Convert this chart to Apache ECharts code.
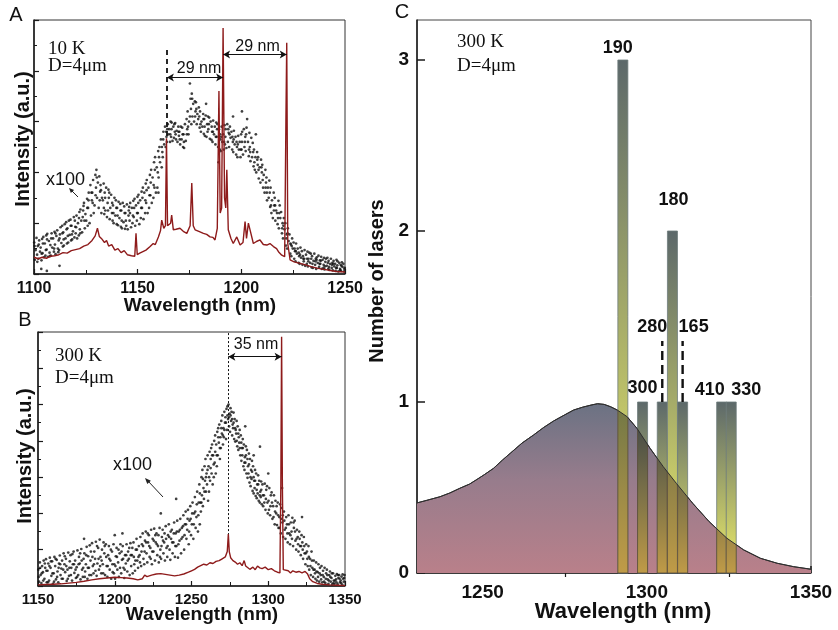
<!DOCTYPE html>
<html><head><meta charset="utf-8">
<script src="https://cdn.jsdelivr.net/npm/echarts@6.0.0/dist/echarts.min.js"></script>
<style>html,body{margin:0;padding:0;background:#fff}#c{width:838px;height:630px}</style>
</head><body><div id="c"></div><script>
// ---------- Panel A (10 K) ----------
const ticksA = [1100, 1150, 1200, 1250];
const laserA = [[1100,0.33],[1102,0.3],[1104,0.33],[1106,0.31],[1108,0.35],[1110,0.36],[1112,0.38],[1114,0.42],[1116,0.41],[1118,0.46],[1120,0.48],[1122,0.5],[1124,0.55],[1126,0.58],[1128,0.66],[1129.5,0.75],[1130.6,0.9],[1131.5,0.74],[1132.5,0.7],[1134,0.62],[1135,0.66],[1136,0.55],[1137.5,0.58],[1139,0.47],[1140.5,0.5],[1142,0.42],[1143.5,0.46],[1145,0.38],[1147,0.36],[1148.6,0.35],[1149.2,0.8],[1149.8,0.38],[1151,0.41],[1152.5,0.44],[1154,0.47],[1156,0.54],[1157.5,0.6],[1158.5,0.58],[1160,0.73],[1161,0.85],[1161.6,1.06],[1162.6,0.9],[1163.4,0.95],[1163.9,2.67],[1164.4,0.95],[1165.3,0.93],[1165.9,1.0],[1166.4,1.16],[1167.2,0.87],[1168.5,0.88],[1170.4,0.9],[1172,0.84],[1173.7,0.8],[1175.3,0.95],[1176.1,1.79],[1176.8,0.95],[1177.7,0.87],[1179.5,0.84],[1181.7,0.8],[1183.3,0.78],[1184.9,0.73],[1186.3,0.72],[1187.3,0.67],[1188.4,0.9],[1189.2,3.6],[1189.8,1.2],[1190.5,1.3],[1191.2,4.84],[1191.9,1.5],[1192.5,1.3],[1193,2.05],[1193.7,0.87],[1195,0.7],[1196.1,0.6],[1197.8,0.73],[1199.4,0.57],[1200.8,0.62],[1201.8,1.03],[1202.5,0.7],[1203.4,1.0],[1204.2,0.87],[1205.8,0.6],[1207.3,0.64],[1209,0.67],[1210.6,0.58],[1212.3,0.57],[1213.8,0.6],[1215.5,0.54],[1217,0.5],[1217.9,0.44],[1219.5,0.37],[1220.9,0.34],[1221.5,3.0],[1221.9,4.55],[1222.4,0.6],[1223.5,0.28],[1225.5,0.24],[1228.3,0.21],[1231,0.18],[1234,0.14],[1237,0.11],[1240,0.09],[1243,0.07],[1246,0.05],[1250,0.04]];
const dotsA = [[1100.1,.62],[1100.4,.28],[1100.8,.47],[1101.2,.71],[1101.5,.38],[1101.8,.55],[1102.1,.3],[1102.5,.66],[1102.9,.44],[1103.2,.52],[1103.6,.27],[1103.9,.69],[1104.1,.41],[1104.5,.73],[1104.8,.33],[1105.2,.6],[1105.5,.36],[1105.9,.76],[1106.1,.48],[1106.4,.79],[1106.8,.34],[1107.2,.65],[1107.5,.42],[1107.9,.57],[1108.1,.36],[1108.5,.8],[1108.8,.52],[1109.2,.7],[1109.6,.44],[1109.9,.83],[1110.1,.58],[1110.4,.39],[1110.8,.75],[1111.2,.86],[1111.5,.5],[1111.9,.66],[1112.1,.47],[1112.5,.78],[1112.8,.92],[1113.2,.61],[1113.6,.95],[1113.9,.54],[1114.1,.82],[1114.4,.56],[1114.8,.98],[1115.2,.7],[1115.5,1.02],[1115.9,.6],[1116.1,.9],[1116.5,.62],[1116.8,1.05],[1117.2,.77],[1117.6,1.07],[1117.9,.66],[1118.1,.95],[1118.4,.68],[1118.8,.84],[1119.2,1.12],[1119.5,.72],[1119.9,.93],[1120.1,.8],[1120.5,1.15],[1120.8,.7],[1121.2,1.0],[1121.6,.76],[1121.9,1.22],[1122.1,.88],[1122.4,1.27],[1122.8,1.05],[1123.2,.82],[1123.5,1.12],[1123.9,1.34],[1124.1,1.4],[1124.5,.9],[1124.8,1.18],[1125.2,1.05],[1125.6,1.48],[1125.9,.95],[1126.1,1.3],[1126.4,1.6],[1126.8,1.0],[1127.2,1.75],[1127.5,1.15],[1127.9,1.45],[1128.1,1.6],[1128.5,1.85],[1128.8,1.2],[1129.2,1.35],[1129.6,1.95],[1129.9,1.7],[1130.1,2.05],[1130.4,1.5],[1130.8,1.8],[1131.2,1.3],[1131.5,1.92],[1131.9,1.62],[1132.1,1.75],[1132.5,1.2],[1132.8,1.5],[1133.2,1.45],[1133.6,1.78],[1133.9,1.18],[1134.1,1.6],[1134.4,1.25],[1134.8,1.7],[1135.2,1.12],[1135.5,1.4],[1135.9,1.66],[1136.1,1.5],[1136.5,1.08],[1136.8,1.3],[1137.2,1.56],[1137.6,1.2],[1137.9,1.05],[1138.1,1.35],[1138.4,1.0],[1138.8,1.5],[1139.2,1.15],[1139.5,1.45],[1139.9,.98],[1140.1,1.3],[1140.5,.96],[1140.8,1.42],[1141.2,1.1],[1141.6,1.38],[1141.9,.93],[1142.1,1.25],[1142.4,.9],[1142.8,1.4],[1143.2,1.02],[1143.5,1.33],[1143.9,.89],[1144.1,1.2],[1144.5,.95],[1144.8,1.37],[1145.2,.88],[1145.6,1.15],[1145.9,1.32],[1146.1,1.05],[1146.4,1.4],[1146.8,.92],[1147.2,1.3],[1147.5,1.0],[1147.9,1.44],[1148.1,1.12],[1148.5,1.48],[1148.8,.95],[1149.2,1.35],[1149.6,1.05],[1149.9,1.52],[1150.1,1.2],[1150.4,1.56],[1150.8,.98],[1151.2,1.45],[1151.5,1.1],[1151.9,1.62],[1152.1,1.3],[1152.5,1.7],[1152.8,1.08],[1153.2,1.6],[1153.6,1.2],[1153.9,1.78],[1154.1,1.4],[1154.4,1.85],[1154.8,1.2],[1155.2,1.7],[1155.5,1.3],[1155.9,1.95],[1156.1,1.55],[1156.5,2.05],[1156.8,1.4],[1157.2,1.9],[1157.6,1.5],[1157.9,2.2],[1158.1,1.7],[1158.4,2.3],[1158.8,1.6],[1159.2,2.1],[1159.5,1.7],[1159.9,2.42],[1160.1,1.9],[1160.5,2.5],[1160.8,2.2],[1161.2,2.65],[1161.6,2.1],[1161.9,2.4],[1162.1,2.3],[1162.4,2.8],[1162.8,2.55],[1163.2,2.9],[1163.5,2.5],[1163.9,2.7],[1164.1,2.6],[1164.5,2.95],[1164.8,2.75],[1165.2,2.85],[1165.6,2.6],[1165.9,3.0],[1166.1,2.7],[1166.4,2.98],[1166.8,2.62],[1167.2,2.9],[1167.5,2.68],[1167.9,2.8],[1168.1,2.97],[1168.5,2.65],[1168.8,2.82],[1169.2,2.6],[1169.6,2.9],[1169.9,2.72],[1170.1,2.8],[1170.5,2.55],[1170.8,2.9],[1171.2,2.65],[1171.5,2.88],[1171.9,2.5],[1172.1,2.75],[1172.4,2.48],[1172.8,2.95],[1173.2,2.62],[1173.6,3.05],[1173.9,2.85],[1174.1,3.2],[1174.5,2.75],[1174.8,3.0],[1175.2,3.1],[1175.5,3.45],[1175.9,2.95],[1176.1,3.55],[1176.4,3.1],[1176.8,3.35],[1177.2,3.0],[1177.6,3.4],[1177.9,3.2],[1178.1,3.38],[1178.5,2.95],[1178.8,3.15],[1179.2,3.05],[1179.5,3.28],[1179.9,2.88],[1180.1,3.2],[1180.5,2.8],[1180.8,3.0],[1181.2,2.9],[1181.6,3.15],[1181.9,2.76],[1182.1,3.05],[1182.4,2.72],[1182.8,3.12],[1183.2,2.7],[1183.5,2.95],[1183.9,3.1],[1184.1,2.85],[1184.5,3.08],[1184.8,2.66],[1185.2,3.0],[1185.6,2.64],[1185.9,2.8],[1186.1,2.6],[1186.4,3.02],[1186.8,2.75],[1187.2,2.9],[1187.5,2.55],[1187.9,2.98],[1188.1,2.7],[1188.5,2.95],[1188.8,2.5],[1189.2,2.85],[1189.6,2.45],[1189.9,2.65],[1190.1,2.42],[1190.5,2.9],[1190.8,2.6],[1191.2,2.75],[1191.6,2.45],[1191.9,2.93],[1192.1,2.55],[1192.4,2.85],[1192.8,2.48],[1193.2,2.95],[1193.5,2.6],[1193.9,2.78],[1194.1,2.5],[1194.5,2.9],[1194.8,2.68],[1195.2,2.8],[1195.6,2.45],[1195.9,2.6],[1196.1,2.4],[1196.4,2.82],[1196.8,2.55],[1197.2,2.7],[1197.5,2.35],[1197.9,2.5],[1198.1,2.3],[1198.5,2.72],[1198.8,2.45],[1199.2,2.6],[1199.6,2.3],[1199.9,2.75],[1200.1,2.45],[1200.4,2.8],[1200.8,2.35],[1201.2,2.85],[1201.5,2.5],[1201.9,2.7],[1202.1,2.42],[1202.5,2.88],[1202.8,3.05],[1203.2,2.6],[1203.6,2.32],[1203.9,2.78],[1204.1,2.5],[1204.4,2.22],[1204.8,2.68],[1205.2,2.3],[1205.5,2.58],[1205.9,2.12],[1206.1,2.45],[1206.5,2.05],[1206.8,2.3],[1207.2,2.0],[1207.6,2.4],[1207.9,2.15],[1208.1,2.3],[1208.4,1.88],[1208.8,2.1],[1209.2,1.8],[1209.5,2.25],[1209.9,2.0],[1210.1,2.15],[1210.5,1.7],[1210.8,1.95],[1211.2,1.6],[1211.6,2.05],[1211.9,1.8],[1212.1,1.9],[1212.4,1.45],[1212.8,1.7],[1213.2,1.5],[1213.5,1.84],[1213.9,1.32],[1214.1,1.7],[1214.5,1.2],[1214.8,1.45],[1215.2,1.1],[1215.6,1.6],[1215.9,1.35],[1216.1,1.5],[1216.4,1.05],[1216.8,1.25],[1217.2,1.2],[1217.5,.98],[1217.9,1.44],[1218.1,.9],[1218.5,1.35],[1218.8,1.1],[1219.2,1.22],[1219.6,.8],[1219.9,1.0],[1220.1,.7],[1220.5,1.1],[1220.8,.88],[1221.2,1.0],[1221.5,.56],[1221.9,.78],[1222.1,.5],[1222.4,.9],[1222.8,.65],[1223.2,.78],[1223.6,.4],[1223.9,.58],[1224.1,.35],[1224.5,.7],[1224.8,.5],[1225.2,.62],[1225.5,.3],[1225.9,.45],[1226.1,.25],[1226.4,.6],[1226.8,.4],[1227.2,.5],[1227.6,.22],[1227.9,.35],[1228.1,.2],[1228.5,.52],[1228.8,.32],[1229.2,.45],[1229.5,.18],[1229.9,.3],[1230.1,.25],[1230.5,.47],[1230.8,.16],[1231.2,.38],[1231.6,.2],[1231.9,.44],[1232.1,.15],[1232.4,.3],[1232.8,.42],[1233.2,.22],[1233.5,.4],[1233.9,.13],[1234.1,.35],[1234.5,.12],[1234.8,.26],[1235.2,.4],[1235.6,.18],[1235.9,.3],[1236.1,.1],[1236.4,.33],[1236.8,.22],[1237.2,.36],[1237.5,.14],[1237.9,.27],[1238.1,.2],[1238.5,.34],[1238.8,.1],[1239.2,.28],[1239.6,.12],[1239.9,.32],[1240.1,.09],[1240.5,.24],[1240.8,.3],[1241.2,.16],[1241.5,.32],[1241.9,.1],[1242.1,.26],[1242.4,.08],[1242.8,.2],[1243.2,.3],[1243.6,.12],[1243.9,.22],[1244.1,.07],[1244.5,.26],[1244.8,.15],[1245.2,.2],[1245.5,.06],[1245.9,.28],[1246.1,.12],[1246.4,.25],[1246.8,.05],[1247.2,.22],[1247.6,.1],[1247.9,.18],[1248.1,.06],[1248.5,.23],[1248.8,.14],[1249.2,.2],[1249.6,.05],[1249.9,.12],[1103.5,.1],[1106.2,.06],[1112.3,.16],[1175.2,3.75],[1183,3.35],[1196,3.1],[1207,2.75],[1160,1.6],[1189,2.2],[1200.3,3.2]];
const dotsA2 = [[1100.3,.55],[1101.6,.24],[1102.3,.58],[1103.7,.4],[1104.3,.6],[1105.7,.47],[1106.3,.68],[1107.7,.35],[1108.3,.7],[1109.7,.5],[1110.3,.8],[1111.7,.43],[1112.3,.7],[1113.7,.8],[1114.3,.68],[1115.7,.88],[1116.3,.75],[1117.7,.95],[1118.3,.78],[1119.7,1.05],[1120.3,.92],[1121.7,1.1],[1122.3,.8],[1123.7,1.25],[1124.3,1.05],[1125.7,1.3],[1126.3,1.45],[1127.7,1.6],[1128.3,1.4],[1129.7,1.55],[1130.3,1.9],[1131.7,1.45],[1132.3,1.65],[1133.7,1.3],[1134.3,1.5],[1135.7,1.25],[1136.3,1.6],[1137.7,1.4],[1138.3,1.2],[1139.7,1.3],[1140.3,1.15],[1141.7,1.25],[1142.3,1.05],[1143.7,1.2],[1144.3,1.05],[1145.7,1.25],[1146.3,1.2],[1147.7,1.15],[1148.3,1.3],[1149.7,1.2],[1150.3,1.4],[1151.7,1.3],[1152.3,1.5],[1153.7,1.45],[1154.3,1.65],[1155.7,1.55],[1156.3,1.8],[1157.7,1.75],[1158.3,2.05],[1159.7,2.0],[1160.3,2.3],[1161.7,2.5],[1162.3,2.65],[1163.7,2.8],[1164.3,2.85],[1165.7,2.75],[1166.3,2.85],[1167.7,2.95],[1168.3,2.75],[1169.7,2.8],[1170.3,2.65],[1171.7,2.75],[1172.3,2.6],[1173.7,2.75],[1174.3,2.9],[1175.7,3.25],[1176.3,3.45],[1177.7,3.1],[1178.3,3.25],[1179.7,3.1],[1180.3,2.95],[1181.7,3.05],[1182.3,2.9],[1183.7,2.8],[1184.3,2.95],[1185.7,2.9],[1186.3,2.8],[1187.7,2.7],[1188.3,2.85],[1189.7,2.75],[1190.3,2.7],[1191.7,2.6],[1192.3,2.7],[1193.7,2.85],[1194.3,2.75],[1195.7,2.7],[1196.3,2.65],[1197.7,2.6],[1198.3,2.55],[1199.7,2.45],[1200.3,2.6],[1201.7,2.6],[1202.3,2.75],[1203.7,2.45],[1204.3,2.4],[1205.7,2.4],[1206.3,2.2],[1207.7,2.25],[1208.3,2.05],[1209.7,2.1],[1210.3,1.85],[1211.7,1.7],[1212.3,1.6],[1213.7,1.6],[1214.3,1.35],[1215.7,1.25],[1216.3,1.35],[1217.7,1.1],[1218.3,1.2],[1219.7,.9],[1220.3,.95],[1221.7,.7],[1222.3,.8],[1223.7,.6],[1224.3,.55],[1225.7,.5],[1226.3,.45],[1227.7,.42],[1228.3,.38],[1229.7,.35],[1230.3,.3],[1231.7,.3],[1232.3,.25],[1233.7,.3],[1234.3,.2],[1235.7,.25],[1236.3,.28],[1237.7,.2],[1238.3,.26],[1239.7,.18],[1240.3,.15],[1241.7,.22],[1242.3,.14],[1243.7,.18],[1244.3,.2],[1245.7,.12],[1246.3,.17],[1247.7,.08],[1248.3,.16],[1249.7,.1]];

// ---------- Panel B (300 K) ----------
const ticksB = [1150, 1200, 1250, 1300, 1350];
const laserB = [[1150,0.03],[1155,0.04],[1160,0.05],[1165,0.06],[1170,0.08],[1175,0.1],[1180,0.13],[1185,0.17],[1190,0.2],[1195,0.22],[1200,0.24],[1204,0.23],[1208,0.22],[1212,0.2],[1215,0.17],[1218,0.2],[1219.5,0.3],[1221,0.26],[1224,0.3],[1227,0.33],[1230,0.34],[1233,0.32],[1236,0.3],[1239,0.28],[1242,0.3],[1245,0.33],[1248,0.38],[1250,0.42],[1252,0.46],[1254,0.52],[1256,0.56],[1258,0.6],[1260,0.58],[1262,0.64],[1264,0.62],[1266,0.68],[1268,0.7],[1270,0.75],[1272,0.8],[1273.3,0.95],[1274,1.43],[1274.6,0.95],[1275.5,0.78],[1277,0.7],[1278.5,0.66],[1280,0.6],[1281.5,0.64],[1283,0.56],[1284.3,0.7],[1285.3,0.55],[1286.5,0.5],[1288,0.46],[1290,0.52],[1291.5,0.45],[1293,0.55],[1294.5,0.5],[1296,0.48],[1298,0.52],[1300,0.45],[1302,0.48],[1304,0.42],[1306,0.38],[1307.6,0.36],[1308.2,2.8],[1308.7,6.87],[1309.2,2.8],[1309.8,0.45],[1311,0.4],[1313,0.42],[1314.5,0.36],[1316,0.42],[1318,0.38],[1320,0.4],[1322,0.36],[1324,0.4],[1325.5,0.34],[1327,0.2],[1329,0.12],[1332,0.07],[1335,0.05],[1340,0.03],[1345,0.02],[1350,0.01]];
const dotsB = [[1150.2,.45],[1150.7,.12],[1151.2,.65],[1151.7,.3],[1152.2,.08],[1152.7,.55],[1153.2,.38],[1153.7,.7],[1154.2,.2],[1154.7,.5],[1155.2,.74],[1155.7,.1],[1156.2,.42],[1156.7,.62],[1157.2,.15],[1157.7,.78],[1158.2,.5],[1158.7,.28],[1159.2,.68],[1159.7,.06],[1160.2,.35],[1160.7,.8],[1161.2,.55],[1161.7,.18],[1162.2,.72],[1162.7,.4],[1163.2,.1],[1163.7,.62],[1164.2,.84],[1164.7,.3],[1165.2,.48],[1165.7,.7],[1166.2,.2],[1166.7,.9],[1167.2,.6],[1167.7,.38],[1168.2,.75],[1168.7,.14],[1169.2,.45],[1169.7,.92],[1170.2,.28],[1170.7,.68],[1171.2,.85],[1171.7,.5],[1172.2,.15],[1172.7,.6],[1173.2,.95],[1173.7,.36],[1174.2,.7],[1174.7,.22],[1175.2,.52],[1175.7,.98],[1176.2,.3],[1176.7,.8],[1177.2,.62],[1177.7,.18],[1178.2,1.02],[1178.7,.45],[1179.2,.25],[1179.7,.75],[1180.2,.9],[1180.7,.4],[1181.2,.6],[1181.7,1.08],[1182.2,.2],[1182.7,.82],[1183.2,.5],[1183.7,1.12],[1184.2,.7],[1184.7,.3],[1185.2,1.18],[1185.7,.55],[1186.2,.35],[1186.7,.95],[1187.2,.75],[1187.7,1.22],[1188.2,.28],[1188.7,.62],[1189.2,1.05],[1189.7,.45],[1190.2,1.28],[1190.7,.8],[1191.2,.35],[1191.7,1.0],[1192.2,.6],[1192.7,1.2],[1193.2,.9],[1193.7,.3],[1194.2,1.15],[1194.7,.55],[1195.2,.25],[1195.7,.85],[1196.2,1.1],[1196.7,.45],[1197.2,.7],[1197.7,.2],[1198.2,.95],[1198.7,.38],[1199.2,1.15],[1199.7,.6],[1200.2,.2],[1200.7,.82],[1201.2,1.05],[1201.7,.45],[1202.2,.65],[1202.7,.25],[1203.2,.9],[1203.7,1.15],[1204.2,.35],[1204.7,.72],[1205.2,1.1],[1205.7,.5],[1206.2,.22],[1206.7,.85],[1207.2,.62],[1207.7,1.15],[1208.2,.4],[1208.7,.95],[1209.2,.75],[1209.7,.3],[1210.2,1.18],[1210.7,.55],[1211.2,.85],[1211.7,.35],[1212.2,1.2],[1212.7,.6],[1213.2,.42],[1213.7,1.0],[1214.2,1.3],[1214.7,.7],[1215.2,.5],[1215.7,1.1],[1216.2,.85],[1216.7,1.35],[1217.2,.55],[1217.7,1.15],[1218.2,1.45],[1218.7,.75],[1219.2,.6],[1219.7,1.25],[1220.2,1.5],[1220.7,.9],[1221.2,.65],[1221.7,1.2],[1222.2,1.4],[1222.7,.8],[1223.2,1.05],[1223.7,1.55],[1224.2,.6],[1224.7,1.3],[1225.2,.95],[1225.7,1.58],[1226.2,.7],[1226.7,1.2],[1227.2,1.45],[1227.7,.85],[1228.2,1.1],[1228.7,.65],[1229.2,1.6],[1229.7,1.0],[1230.2,.75],[1230.7,1.35],[1231.2,1.55],[1231.7,.9],[1232.2,1.2],[1232.7,.7],[1233.2,1.65],[1233.7,1.05],[1234.2,.8],[1234.7,1.4],[1235.2,1.7],[1235.7,1.0],[1236.2,.72],[1236.7,1.3],[1237.2,1.55],[1237.7,.9],[1238.2,1.2],[1238.7,1.75],[1239.2,.8],[1239.7,1.45],[1240.2,1.1],[1240.7,1.8],[1241.2,.78],[1241.7,1.5],[1242.2,1.25],[1242.7,1.85],[1243.2,.9],[1243.7,1.6],[1244.2,1.35],[1244.7,1.95],[1245.2,1.0],[1245.7,1.7],[1246.2,2.05],[1246.7,1.3],[1247.2,1.55],[1247.7,2.1],[1248.2,1.15],[1248.7,1.8],[1249.2,2.2],[1249.7,1.4],[1250.2,1.7],[1250.7,2.3],[1251.2,1.3],[1251.7,2.0],[1252.2,2.45],[1252.7,1.6],[1253.2,1.9],[1253.7,2.6],[1254.2,1.5],[1254.7,2.3],[1255.1,2.8],[1255.4,1.7],[1255.8,2.3],[1256.1,2.05],[1256.5,3.0],[1256.8,2.5],[1257.1,3.2],[1257.4,2.2],[1257.8,2.7],[1258.1,2.4],[1258.5,3.3],[1258.8,2.9],[1259.1,3.5],[1259.4,2.6],[1259.8,3.1],[1260.1,2.8],[1260.5,3.6],[1260.8,2.35],[1261.1,3.3],[1261.4,2.6],[1261.8,3.7],[1262.1,2.9],[1262.5,3.5],[1262.8,3.8],[1263.1,3.1],[1263.4,3.9],[1263.8,2.8],[1264.1,3.6],[1264.5,3.0],[1264.8,4.0],[1265.1,3.4],[1265.4,4.15],[1265.8,3.1],[1266.1,3.9],[1266.5,3.3],[1266.8,4.25],[1267.1,3.6],[1267.4,4.35],[1267.8,3.95],[1268.1,4.45],[1268.5,3.5],[1268.8,4.1],[1269.1,3.8],[1269.4,4.55],[1269.8,4.2],[1270.1,4.7],[1270.5,3.9],[1270.8,4.35],[1271.1,4.1],[1271.4,4.8],[1271.8,4.5],[1272.1,4.65],[1272.5,4.05],[1272.8,4.88],[1273.1,4.3],[1273.4,4.95],[1273.8,4.6],[1274.1,5.0],[1274.5,4.4],[1274.8,4.75],[1275.1,4.25],[1275.4,4.9],[1275.8,4.55],[1276.1,4.8],[1276.5,4.15],[1276.8,4.45],[1277.1,4.35],[1277.4,4.78],[1277.8,4.05],[1278.1,4.6],[1278.5,3.98],[1278.8,4.3],[1279.1,4.2],[1279.4,4.55],[1279.8,3.85],[1280.1,4.4],[1280.5,3.75],[1280.8,4.1],[1281.1,3.95],[1281.4,4.3],[1281.8,3.6],[1282.1,4.15],[1282.5,3.45],[1282.8,3.8],[1283.1,3.6],[1283.4,4.05],[1283.8,3.3],[1284.1,3.9],[1284.5,3.2],[1284.8,3.55],[1285.1,3.4],[1285.4,3.85],[1285.8,3.1],[1286.1,3.75],[1286.5,2.98],[1286.8,3.3],[1287.1,3.1],[1287.4,3.65],[1287.8,2.85],[1288.1,3.5],[1288.5,2.75],[1288.8,3.2],[1289.1,2.95],[1289.4,3.45],[1289.8,2.62],[1290.1,3.3],[1290.5,2.55],[1290.8,2.9],[1291.1,2.7],[1291.4,3.2],[1291.8,2.48],[1292.1,3.1],[1292.5,2.42],[1292.8,2.8],[1293.1,2.55],[1293.4,3.05],[1293.8,2.35],[1294.1,2.9],[1294.5,2.3],[1294.8,2.6],[1295.1,2.45],[1295.4,2.88],[1295.8,2.25],[1296.2,2.8],[1296.7,2.2],[1297.2,2.5],[1297.7,2.82],[1298.2,2.1],[1298.7,2.65],[1299.2,2.75],[1299.7,2.0],[1300.2,2.35],[1300.7,2.7],[1301.2,1.95],[1301.7,2.5],[1302.2,2.58],[1302.7,1.85],[1303.2,2.2],[1303.7,2.5],[1304.2,1.7],[1304.7,2.35],[1305.2,2.0],[1305.7,1.68],[1306.2,2.3],[1306.7,1.6],[1307.2,1.9],[1307.7,2.25],[1308.2,1.45],[1308.7,2.15],[1309.2,1.75],[1309.7,1.35],[1310.2,2.05],[1310.7,1.55],[1311.2,1.3],[1311.7,1.9],[1312.2,1.7],[1312.7,1.2],[1313.2,1.95],[1313.7,1.45],[1314.2,1.15],[1314.7,1.75],[1315.2,1.5],[1315.7,1.88],[1316.2,1.1],[1316.7,1.6],[1317.2,1.8],[1317.7,1.25],[1318.2,1.0],[1318.7,1.55],[1319.2,1.35],[1319.7,.95],[1320.2,1.5],[1320.7,1.1],[1321.2,.85],[1321.7,1.4],[1322.2,1.2],[1322.7,.75],[1323.2,1.35],[1323.7,.9],[1324.2,.6],[1324.7,1.15],[1325.2,.95],[1325.7,.55],[1326.2,1.1],[1326.7,.45],[1327.2,.75],[1327.7,.3],[1328.2,.95],[1328.7,.5],[1329.2,.25],[1329.7,.7],[1330.2,.45],[1330.7,.2],[1331.2,.65],[1331.7,.15],[1332.2,.38],[1332.7,.6],[1333.2,.12],[1333.7,.5],[1334.2,.3],[1334.7,.55],[1335.2,.1],[1335.7,.42],[1336.2,.25],[1336.7,.5],[1337.2,.08],[1337.7,.35],[1338.2,.45],[1338.7,.18],[1339.2,.06],[1339.7,.3],[1340.2,.4],[1340.7,.12],[1341.2,.22],[1341.7,.05],[1342.2,.35],[1342.7,.15],[1343.2,.06],[1343.7,.28],[1344.2,.18],[1344.7,.33],[1345.2,.05],[1345.7,.22],[1346.2,.3],[1346.7,.1],[1347.2,.15],[1347.7,.26],[1348.2,.04],[1348.7,.2],[1349.2,.12],[1349.7,.3],[1285,4.4],[1309,2.7],[1294.6,3.84],[1300,3.1],[1290.5,3.6],[1322,1.9],[1240,2.4],[1230,2.0],[1200,1.4],[1180,1.3],[1205,1.45]];
const dotsB2 = [[1150.45,.25],[1151.45,.5],[1152.45,.35],[1153.45,.15],[1154.45,.62],[1155.45,.42],[1156.45,.1],[1157.45,.55],[1158.45,.68],[1159.45,.35],[1160.45,.12],[1161.45,.75],[1162.45,.25],[1163.45,.5],[1164.45,.6],[1165.45,.2],[1166.45,.45],[1167.45,.82],[1168.45,.55],[1169.45,.2],[1170.45,.5],[1171.45,.3],[1172.45,.88],[1173.45,.6],[1174.45,.45],[1175.45,.25],[1176.45,.6],[1177.45,.9],[1178.45,.7],[1179.45,.5],[1180.45,.25],[1181.45,.85],[1182.45,.5],[1183.45,.3],[1184.45,.95],[1185.45,.8],[1186.45,.6],[1187.45,.42],[1188.45,1.1],[1189.45,.75],[1190.45,.55],[1191.45,.7],[1192.45,.35],[1193.45,1.1],[1194.45,.8],[1195.45,.55],[1196.45,.75],[1197.45,1.0],[1198.45,.6],[1199.45,.35],[1200.45,.55],[1201.45,.8],[1202.45,1.0],[1203.45,.5],[1204.45,.95],[1205.45,.75],[1206.45,.45],[1207.45,.85],[1208.45,.7],[1209.45,1.05],[1210.45,.85],[1211.45,1.05],[1212.45,.8],[1213.45,.7],[1214.45,1.0],[1215.45,.8],[1216.45,.65],[1217.45,.95],[1218.45,1.1],[1219.45,.95],[1220.45,1.2],[1221.45,1.45],[1222.45,1.1],[1223.45,.75],[1224.45,.95],[1225.45,1.25],[1226.45,1.4],[1227.45,1.15],[1228.45,1.4],[1229.45,.8],[1230.45,1.1],[1231.45,1.25],[1232.45,1.45],[1233.45,1.3],[1234.45,1.1],[1235.45,1.35],[1236.45,1.5],[1237.45,1.2],[1238.45,1.45],[1239.45,1.1],[1240.45,1.5],[1241.45,1.15],[1242.45,1.55],[1243.45,1.3],[1244.45,1.65],[1245.45,1.4],[1246.45,1.7],[1247.45,1.85],[1248.45,1.5],[1249.45,1.85],[1250.45,2.0],[1251.45,1.7],[1252.45,2.05],[1253.45,2.25],[1254.45,1.95],[1255.45,2.55],[1256.45,2.3],[1257.45,2.95],[1258.45,2.6],[1259.45,3.0],[1260.45,3.2],[1261.45,3.0],[1262.45,3.25],[1263.45,3.6],[1264.45,3.35],[1265.45,3.7],[1266.45,3.6],[1267.45,4.1],[1268.45,3.8],[1269.45,4.35],[1270.45,4.15],[1271.45,4.3],[1272.45,4.5],[1273.45,4.7],[1274.45,4.65],[1275.45,4.7],[1276.45,4.6],[1277.45,4.5],[1278.45,4.35],[1279.45,4.0],[1280.45,4.2],[1281.45,3.8],[1282.45,3.95],[1283.45,3.8],[1284.45,3.4],[1285.45,3.6],[1286.45,3.5],[1287.45,3.35],[1288.45,3.0],[1289.45,3.15],[1290.45,3.0],[1291.45,2.9],[1292.45,2.65],[1293.45,2.8],[1294.45,2.5],[1295.45,2.65],[1296.45,2.5],[1297.45,2.3],[1298.45,2.4],[1299.45,2.3],[1300.45,2.1],[1301.45,2.2],[1302.45,2.3],[1303.45,1.9],[1304.45,2.05],[1305.45,2.2],[1306.45,1.95],[1307.45,1.6],[1308.45,1.85],[1309.45,1.95],[1310.45,1.8],[1311.45,1.6],[1312.45,1.45],[1313.45,1.7],[1314.45,1.4],[1315.45,1.3],[1316.45,1.75],[1317.45,1.5],[1318.45,1.3],[1319.45,1.15],[1320.45,1.3],[1321.45,1.1],[1322.45,1.0],[1323.45,1.1],[1324.45,.9],[1325.45,.75],[1326.45,.8],[1327.45,.55],[1328.45,.7],[1329.45,.45],[1330.45,.35],[1331.45,.4],[1332.45,.25],[1333.45,.35],[1334.45,.18],[1335.45,.3],[1336.45,.12],[1337.45,.2],[1338.45,.3],[1339.45,.15],[1340.45,.25],[1341.45,.35],[1342.45,.08],[1343.45,.15],[1344.45,.1],[1345.45,.3],[1346.45,.2],[1347.45,.08],[1348.45,.32],[1349.45,.22]];

// ---------- Panel C (lasing statistics) ----------
const plCurve = [[1230,0.41],[1233,0.425],[1237,0.446],[1240,0.468],[1243,0.495],[1246,0.52],[1248,0.544],[1250.5,0.575],[1253.3,0.612],[1256,0.66],[1258.4,0.70],[1262,0.76],[1265.5,0.807],[1268.5,0.85],[1271.6,0.889],[1275,0.925],[1277.7,0.953],[1280.5,0.97],[1283,0.982],[1285,0.99],[1287,0.986],[1289,0.972],[1291,0.953],[1294,0.914],[1297,0.846],[1301,0.729],[1305,0.622],[1309,0.524],[1314,0.407],[1319,0.30],[1324.4,0.203],[1329.5,0.135],[1334.6,0.086],[1339.7,0.057],[1344.7,0.037],[1350,0.022]];
const laserWl = [1292.7, 1298.7, 1304.7, 1307.8, 1310.9, 1322.8, 1325.7];
const laserCount = [3, 1, 1, 2, 1, 1, 1];
const laserLabel = ['190', '300', '280', '180', '165', '410', '330'];
const ticksCx = [1250, 1300, 1350];
const minorTicksCx = [1275, 1325];
const ticksCy = [0, 1, 2, 3];

// ---------- styling ----------
const labelOffset = [{dx:-5,dy:-12},{dx:0,dy:-14},{dx:-10,dy:-75,lead:true},{dx:1,dy:-31},{dx:11,dy:-75,lead:true},{dx:-12,dy:-12},{dx:15,dy:-12}];
const BAR_W = 3.05;
const SANS = '"Liberation Sans", Arial, sans-serif';
const SERIF = '"Liberation Serif", "Times New Roman", serif';
const AX = '#1a1a1a';
const RED = '#8e1b1b';
const BAR_TOP = [92, 104, 106], BAR_BOT = [238, 238, 104];
const AREA_TOP = [107, 114, 131], AREA_MID = [151, 124, 140], AREA_BOT = [185, 128, 138];
const PEAK = 0.99;

const mix = (a, b, t) => a.map((v, i) => v + (b[i] - v) * t);
const rgb = c => 'rgb(' + c.map(v => Math.round(v)).join(',') + ')';
function areaColor(v) {
  const t = 1 - Math.min(v, PEAK) / PEAK;
  return t < 0.45 ? mix(AREA_TOP, AREA_MID, t / 0.45) : mix(AREA_MID, AREA_BOT, (t - 0.45) / 0.55);
}
// colour of a bar seen through the spectrum (multiply-like blend)
function overlayGradient(n) {
  const stops = [];
  for (let k = 0; k <= 12; k++) {
    const t = k / 12;
    const b = mix(BAR_TOP, BAR_BOT, t);
    const a = areaColor(n * (1 - t));
    const m = b.map((v, i) => v * a[i] / 255);
    stops.push({offset: t, color: rgb(m.map((v, i) => v * 0.7 + b[i] * 0.3))});
  }
  return new echarts.graphic.LinearGradient(0, 0, 0, 1, stops);
}

function renderBar(params, api) {
  const i = params.dataIndex;
  const x = api.value(0), n = api.value(1);
  const tl = api.coord([x - BAR_W / 2, n]);
  const br = api.coord([x + BAR_W / 2, 0]);
  const top = api.coord([x, n]);
  const o = labelOffset[i];
  const poly = plCurve.map(p => api.coord(p));
  poly.push(api.coord([plCurve[plCurve.length - 1][0], 0]));
  poly.push(api.coord([plCurve[0][0], 0]));
  const shape = {x: tl[0], y: tl[1], width: br[0] - tl[0], height: br[1] - tl[1]};
  const children = [{
    type: 'rect', shape: shape,
    style: {fill: new echarts.graphic.LinearGradient(0, 0, 0, 1, [
      {offset: 0, color: rgb(BAR_TOP)}, {offset: 1, color: rgb(BAR_BOT)}]),
      stroke: '#6d7b7b', lineWidth: 0.8}
  }, {
    type: 'rect', shape: shape,
    clipPath: {type: 'polygon', shape: {points: poly}},
    style: {fill: overlayGradient(n), stroke: '#5a4a3a', lineWidth: 0.8}
  }, {
    type: 'text', x: top[0] + o.dx, y: top[1] + o.dy,
    style: {text: laserLabel[i], font: 'bold 18px ' + SANS, fill: '#111', align: 'center', verticalAlign: 'middle'}
  }];
  if (o.lead) {
    children.push({type: 'line', shape: {x1: top[0], y1: top[1], x2: top[0], y2: top[1] + o.dy + 14},
      style: {stroke: '#111', lineWidth: 2.4, lineDash: [9, 5]}});
  }
  return {type: 'group', children: children};
}

function axisCommon(extra) {
  return Object.assign({
    type: 'value',
    axisLine: {show: true, onZero: false, lineStyle: {color: AX, width: 1.5}},
    axisTick: {show: true, inside: true, length: 5, lineStyle: {color: AX, width: 1.2}},
    splitLine: {show: false}
  }, extra);
}
const lab = (size, margin, extra) => Object.assign({color: '#111', fontWeight: 'bold', fontFamily: SANS,
  fontSize: size, margin: margin, formatter: v => String(v)}, extra || {});

const txt = (x, y, text, font) => ({
  type: 'text', x: x, y: y, silent: true,
  style: {text: text, font: font, fill: '#111', align: 'left', verticalAlign: 'middle'}
});
const ctxt = (x, y, text, font, rot) => ({
  type: 'text', x: x, y: y, rotation: rot || 0, silent: true,
  style: {text: text, font: font, fill: '#111', align: 'center', verticalAlign: 'middle'}
});

const markArrows = (extraData) => ({
  silent: true, animation: false, symbol: ['arrow', 'arrow'], symbolSize: [6, 7], label: {show: false},
  lineStyle: {color: '#111', width: 1.2, type: 'solid'}, emphasis: {disabled: true}, data: extraData
});

const chart = echarts.init(document.getElementById('c'), null, {renderer: 'canvas'});
chart.setOption({
  animation: false,
  backgroundColor: '#fff',
  grid: [
    {left: 34, top: 20, width: 311, height: 254, show: true, borderColor: '#333', borderWidth: 1, backgroundColor: 'transparent'},
    {left: 38, top: 332, width: 307, height: 254, show: true, borderColor: '#333', borderWidth: 1, backgroundColor: 'transparent'},
    {left: 417, top: 20, width: 394, height: 553, show: true, borderColor: '#444', borderWidth: 1, backgroundColor: 'transparent'}
  ],
  xAxis: [
    axisCommon({gridIndex: 0, min: ticksA[0], max: ticksA[ticksA.length - 1], interval: 50,
      minorTick: {show: true, splitNumber: 2, length: 4, lineStyle: {color: AX}}, axisLabel: lab(16, 7)}),
    axisCommon({gridIndex: 1, min: ticksB[0], max: ticksB[ticksB.length - 1], interval: 50,
      minorTick: {show: true, splitNumber: 2, length: 4, lineStyle: {color: AX}}, axisLabel: lab(15, 6)}),
    axisCommon({gridIndex: 2, min: 1230, max: 1350,
      axisTick: {show: true, inside: true, length: 7, customValues: ticksCx, lineStyle: {color: AX, width: 1.5}},
      axisLabel: lab(19, 10, {customValues: ticksCx})}),
    axisCommon({gridIndex: 2, min: 1230, max: 1350, axisLine: {show: false},
      axisTick: {show: true, inside: true, length: 4, customValues: minorTicksCx, lineStyle: {color: AX, width: 1.2}},
      axisLabel: {show: false}})
  ],
  yAxis: [
    axisCommon({gridIndex: 0, min: 0, max: 5, interval: 1, axisLabel: {show: false},
      minorTick: {show: true, splitNumber: 2, length: 3, lineStyle: {color: AX}}}),
    axisCommon({gridIndex: 1, min: 0, max: 7, interval: 1, axisLabel: {show: false},
      minorTick: {show: true, splitNumber: 2, length: 3, lineStyle: {color: AX}}}),
    axisCommon({gridIndex: 2, min: 0, max: 3.234,
      axisTick: {show: true, inside: true, length: 8, customValues: ticksCy, lineStyle: {color: AX, width: 1.5}},
      axisLabel: lab(19, 8, {customValues: ticksCy})})
  ],
  series: [
    {type: 'scatter', xAxisIndex: 0, yAxisIndex: 0, data: dotsA.concat(dotsA2), symbolSize: 2.7, silent: true,
      itemStyle: {color: '#111'}, z: 2},
    {type: 'line', xAxisIndex: 0, yAxisIndex: 0, data: laserA, symbol: 'none', silent: true, z: 3,
      lineStyle: {color: RED, width: 1.4},
      markLine: markArrows([
        [{coord: [1164.1, 4.41], symbol: 'none', lineStyle: {type: [5, 4], width: 1.8}}, {coord: [1164.1, 2.7], symbol: 'none'}],
        [{coord: [1164.1, 3.87]}, {coord: [1191.2, 3.87]}],
        [{coord: [1191.2, 4.32]}, {coord: [1221.9, 4.32]}]
      ])},
    {type: 'scatter', xAxisIndex: 1, yAxisIndex: 1, data: dotsB.concat(dotsB2), symbolSize: 2.7, silent: true,
      itemStyle: {color: '#111'}, z: 2},
    {type: 'line', xAxisIndex: 1, yAxisIndex: 1, data: laserB, symbol: 'none', silent: true, z: 3,
      lineStyle: {color: RED, width: 1.4},
      markLine: markArrows([
        [{coord: [1274, 6.97], symbol: 'none', lineStyle: {type: [2, 2], width: 1}}, {coord: [1274, 1.43], symbol: 'none'}],
        [{coord: [1274, 6.32]}, {coord: [1308.7, 6.32]}]
      ])},
    {type: 'line', xAxisIndex: 2, yAxisIndex: 2, data: plCurve, symbol: 'none', silent: true, z: 2,
      lineStyle: {color: '#2e2e2e', width: 1},
      areaStyle: {opacity: 1, color: new echarts.graphic.LinearGradient(0, 0, 0, 1, [
        {offset: 0, color: rgb(AREA_TOP)}, {offset: 0.45, color: rgb(AREA_MID)}, {offset: 1, color: rgb(AREA_BOT)}])}},
    {type: 'custom', xAxisIndex: 2, yAxisIndex: 2, silent: true, z: 4,
      data: laserWl.map((w, i) => [w, laserCount[i]]),
      encode: {x: 0, y: 1},
      renderItem: renderBar},
    {type: 'line', xAxisIndex: 2, yAxisIndex: 2, data: plCurve, symbol: 'none', silent: true, z: 5,
      lineStyle: {color: '#2e2e2e', width: 1}}
  ],
  graphic: [
    ctxt(16, 15, 'A', '20px ' + SANS),
    ctxt(25, 320, 'B', '20px ' + SANS),
    ctxt(402, 12, 'C', '20px ' + SANS),
    txt(48, 49, '10 K', '19px ' + SERIF),
    txt(48, 66, 'D=4\u03bcm', '19px ' + SERIF),
    txt(46, 180, 'x100', '18px ' + SANS),
    ctxt(199, 69, '29 nm', '16px ' + SANS),
    ctxt(257.5, 46.5, '29 nm', '16px ' + SANS),
    txt(55, 356, '300 K', '19px ' + SERIF),
    txt(55, 378, 'D=4\u03bcm', '19px ' + SERIF),
    txt(113, 465, 'x100', '18px ' + SANS),
    ctxt(256, 345, '35 nm', '16px ' + SANS),
    txt(457, 42, '300 K', '19px ' + SERIF),
    txt(457, 66, 'D=4\u03bcm', '19px ' + SERIF),
    ctxt(23.5, 139, 'Intensity (a.u.)', 'bold 20px ' + SANS, Math.PI / 2),
    ctxt(25, 456, 'Intensity (a.u.)', 'bold 20px ' + SANS, Math.PI / 2),
    ctxt(200, 306, 'Wavelength (nm)', 'bold 19px ' + SANS),
    ctxt(202, 615, 'Wavelength (nm)', 'bold 19px ' + SANS),
    ctxt(623, 612, 'Wavelength (nm)', 'bold 22px ' + SANS),
    ctxt(377, 281, 'Number of lasers', 'bold 20px ' + SANS, Math.PI / 2),
    {type: 'line', silent: true, shape: {x1: 78, y1: 197, x2: 71, y2: 190}, style: {stroke: '#222', lineWidth: 1}},
    {type: 'polygon', silent: true, shape: {points: [[69, 188], [74.1, 189.9], [70.9, 193.1]]}, style: {fill: '#222'}},
    {type: 'line', silent: true, shape: {x1: 163, y1: 497, x2: 148, y2: 481}, style: {stroke: '#222', lineWidth: 1}},
    {type: 'polygon', silent: true, shape: {points: [[145, 478], [150.9, 480.7], [147.3, 484.1]]}, style: {fill: '#222'}}
  ]
});
</script></body></html>
